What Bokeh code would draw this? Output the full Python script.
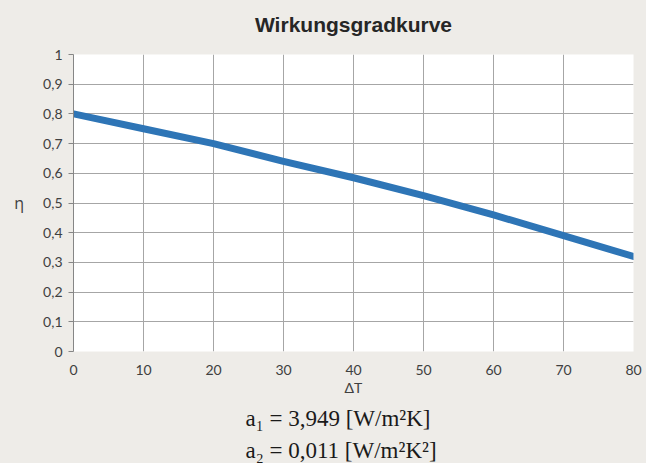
from bokeh.plotting import figure
from bokeh.models import Range1d, FixedTicker, Title, GlobalInlineStyleSheet
from bokeh.embed import file_html
from bokeh.resources import INLINE

# ---- data ----
delta_t = [0, 10, 20, 30, 40, 50, 60, 70, 80]
eta = [0.80, 0.75, 0.70, 0.64, 0.585, 0.525, 0.46, 0.39, 0.32]

x_ticks = [0, 10, 20, 30, 40, 50, 60, 70, 80]
y_ticks = [0, 0.1, 0.2, 0.3, 0.4, 0.5, 0.6, 0.7, 0.8, 0.9, 1]
y_tick_labels = ["0", "0,1", "0,2", "0,3", "0,4", "0,5", "0,6", "0,7", "0,8", "0,9", "1"]

title_text = "Wirkungsgradkurve"
x_label = "ΔT"
y_label = "η"
formula_lines = ["a\u2081 = 3,949 [W/m\u00b2K]", "a\u2082 = 0,011 [W/m\u00b2K\u00b2]"]

# ---- style ----
BG = "#EEECE8"
GRID = "#A6A6A6"
AXIS = "#868686"
LINE = "#2E75B6"
TICK_FONT = "Lato"
TXT = "#404040"
W, H = 646, 463

p = figure(width=W, height=H, output_backend="svg", toolbar_location=None, title=None,
           x_range=Range1d(0, 80), y_range=Range1d(0, 1),
           min_border_left=73, min_border_right=13, min_border_top=54, min_border_bottom=112)
p.stylesheets = [GlobalInlineStyleSheet(css="body { background: %s; }" % BG)]
p.border_fill_color = BG
p.background_fill_color = "white"
p.outline_line_color = None

# title: a thin spacer next to the frame, then the title text above it
p.add_layout(Title(text=" ", text_font_size="1px", standoff=15), "above")
p.add_layout(Title(text=title_text, align="center", text_font="Liberation Sans",
                   text_font_size="21px", text_font_style="bold", text_color="#262626",
                   standoff=2), "above")

# grids
p.xgrid.ticker = FixedTicker(ticks=x_ticks)
p.ygrid.ticker = FixedTicker(ticks=y_ticks[1:])
p.xgrid.grid_line_color = GRID
p.ygrid.grid_line_color = GRID
p.xgrid.grid_line_width = 1
p.ygrid.grid_line_width = 1

# x axis
xa = p.xaxis[0]
xa.ticker = FixedTicker(ticks=x_ticks)
xa.axis_line_color = None
xa.major_tick_line_color = None
xa.minor_tick_line_color = None
xa.major_tick_out = 0
xa.major_tick_in = 0
xa.major_label_standoff = 13
xa.major_label_text_font = TICK_FONT
xa.major_label_text_font_size = "14px"
xa.major_label_text_color = TXT
xa.axis_label = x_label
xa.axis_label_text_font = TICK_FONT
xa.axis_label_text_font_size = "14px"
xa.axis_label_text_font_style = "normal"
xa.axis_label_text_color = TXT
xa.axis_label_standoff = 1

# y axis
ya = p.yaxis[0]
ya.ticker = FixedTicker(ticks=y_ticks)
ya.major_label_overrides = {t: s for t, s in zip(y_ticks, y_tick_labels)}
ya.axis_line_color = AXIS
ya.major_tick_line_color = AXIS
ya.minor_tick_line_color = None
ya.major_tick_out = 5
ya.major_tick_in = 0
ya.major_label_standoff = 6
ya.major_label_text_font = TICK_FONT
ya.major_label_text_font_size = "14px"
ya.major_label_text_color = TXT
ya.axis_label = y_label
ya.axis_label_text_font = "Open Sans"
ya.axis_label_text_font_size = "16px"
ya.axis_label_text_font_style = "normal"
ya.axis_label_text_color = TXT
ya.axis_label_standoff = 16
try:
    ya.axis_label_orientation = "horizontal"
except Exception:
    pass

# curve
p.line(delta_t, eta, line_color=LINE, line_width=7, line_cap="round", line_join="round")

# formula lines below the axis
for i, txt in enumerate(formula_lines):
    t = Title(text=txt, align="left", offset=172, text_font="Liberation Serif",
              text_font_size="23px", text_font_style="normal", text_color="#1A1A1A",
              standoff=10 if i == 0 else 0)
    p.add_layout(t, "below")

open("out.html", "w").write(file_html(p, INLINE))
